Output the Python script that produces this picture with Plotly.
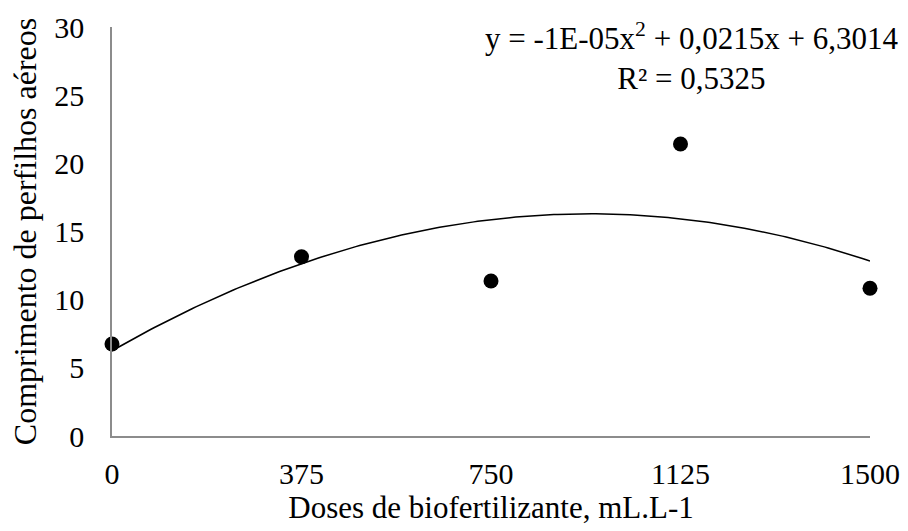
import numpy as np
import plotly.graph_objects as go

doses = [0, 375, 750, 1125, 1500]
comprimento = [6.75, 13.15, 11.37, 21.42, 10.84]
x_ticks = [0, 375, 750, 1125, 1500]
y_ticks = [0, 5, 10, 15, 20, 25, 30]
equation_text = "y = -1E-05x<sup>2</sup> + 0,0215x + 6,3014<br>R² = 0,5325"

coef = np.polyfit(doses, comprimento, 2)
xs = np.linspace(min(doses), max(doses), 200)
ys = np.polyval(coef, xs)

FONT = "Liberation Serif, Times New Roman, serif"

fig = go.Figure()
fig.add_trace(go.Scatter(x=xs, y=ys, mode="lines",
                         line=dict(color="black", width=1.5),
                         hoverinfo="skip", showlegend=False, cliponaxis=False))
fig.add_trace(go.Scatter(x=doses, y=comprimento, mode="markers",
                         marker=dict(color="black", size=15),
                         showlegend=False, cliponaxis=False))

fig.update_layout(
    width=908, height=531,
    margin=dict(l=112, r=38, t=27, b=95),
    paper_bgcolor="white", plot_bgcolor="white",
    font=dict(family=FONT, color="black", size=30),
    xaxis=dict(range=[0, 1500], tickvals=x_ticks, ticktext=[str(v) for v in x_ticks],
               showgrid=False, zeroline=False, showline=True, linecolor="#8c8c8c",
               linewidth=1.5, ticks="", ticklabelstandoff=10, automargin=False,
               tickfont=dict(size=30, family=FONT),
               title=dict(text="Doses de biofertilizante, mL.L-1",
                          font=dict(size=31, family=FONT), standoff=8)),
    yaxis=dict(range=[0, 30], tickvals=y_ticks,
               showgrid=False, zeroline=False, showline=True, linecolor="#8c8c8c",
               linewidth=1.5, ticks="", ticklabelstandoff=20, automargin=False,
               tickfont=dict(size=30, family=FONT),
               title=dict(text="Comprimento de perfilhos aéreos",
                          font=dict(size=32, family=FONT), standoff=8)),
)
fig.add_annotation(xref="paper", yref="paper", x=0.7645, y=0.928,
                   xanchor="center", yanchor="middle", showarrow=False,
                   text=equation_text, align="center",
                   font=dict(size=31, family=FONT, color="black"))

fig.write_html("out.html",
               config={"displayModeBar": False},
               post_script="document.body.style.margin='0';document.body.style.overflow='hidden';")
